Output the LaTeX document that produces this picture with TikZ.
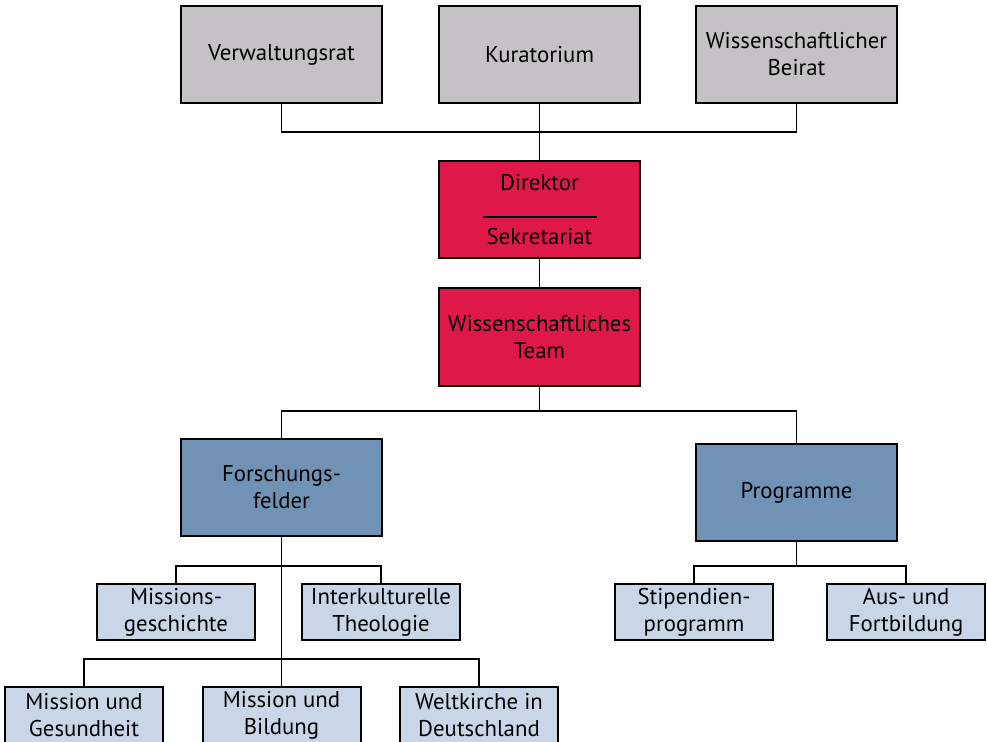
\documentclass[tikz,border=0pt]{standalone}
\usepackage{fontspec}
\setmainfont{PT Sans}
\definecolor{boardgray}{RGB}{196,194,196}
\definecolor{headred}{RGB}{222,24,72}
\definecolor{unitblue}{RGB}{112,146,180}
\definecolor{fieldblue}{RGB}{200,214,232}
\begin{document}
\begin{tikzpicture}[x=0.5pt,y=-0.5pt,
    every node/.style={draw=black,line width=1pt,align=center,font=\fontsize{11.4}{13.5}\selectfont,inner sep=0pt},
    bigbox/.style={minimum width=100.5pt,minimum height=48.5pt},
    smallbox/.style={minimum width=79pt,minimum height=28pt},
    link/.style={line width=0.9pt}]
  \useasboundingbox (0,0) rectangle (988,742);
  \node[bigbox,fill=boardgray] (verw) at (281.5,54.5) {Verwaltungsrat};
  \node[bigbox,fill=boardgray] (kur) at (539.5,54.5) {Kuratorium};
  \node[bigbox,fill=boardgray] (beirat) at (796.5,54.5) {Wissenschaftlicher\\Beirat};
  \node[bigbox,fill=headred] (dir) at (539.5,210) {Direktor\\\rule{57pt}{0.9pt}\\Sekretariat};
  \node[bigbox,fill=headred] (team) at (539.5,337) {Wissenschaftliches\\Team};
  \node[bigbox,fill=unitblue] (ff) at (281.5,487) {Forschungs-\\felder};
  \node[bigbox,fill=unitblue] (prog) at (796.5,492.5) {Programme};
  \node[smallbox,fill=fieldblue] (mg) at (176,612) {Missions-\\geschichte};
  \node[smallbox,fill=fieldblue] (it) at (381,612) {Interkulturelle\\Theologie};
  \node[smallbox,fill=fieldblue] (mgs) at (84,715) {Mission und\\Gesundheit};
  \node[smallbox,fill=fieldblue] (mb) at (281.5,715) {Mission und\\Bildung};
  \node[smallbox,fill=fieldblue] (wk) at (479,715) {Weltkirche in\\Deutschland};
  \node[smallbox,fill=fieldblue] (sp) at (694,612) {Stipendien-\\programm};
  \node[smallbox,fill=fieldblue] (af) at (906,612) {Aus- und\\Fortbildung};
  \coordinate (bus1) at (539.5,132);
  \coordinate (bus2) at (539.5,411);
  \coordinate (bus3) at (281.5,566);
  \coordinate (bus4) at (281.5,659);
  \coordinate (bus5) at (796.5,566);
  \draw[link] (kur) -- (dir);
  \draw[link] (verw) |- (bus1) -| (beirat);
  \draw[link] (dir) -- (team);
  \draw[link] (team) -- (bus2);
  \draw[link] (ff) |- (bus2) -| (prog);
  \draw[link] (ff.south) -- (mb.north);
  \draw[link] (mg) |- (bus3) -| (it);
  \draw[link] (mgs) |- (bus4) -| (wk);
  \draw[link] (prog) -- (bus5);
  \draw[link] (sp) |- (bus5) -| (af);
\end{tikzpicture}
\end{document}
